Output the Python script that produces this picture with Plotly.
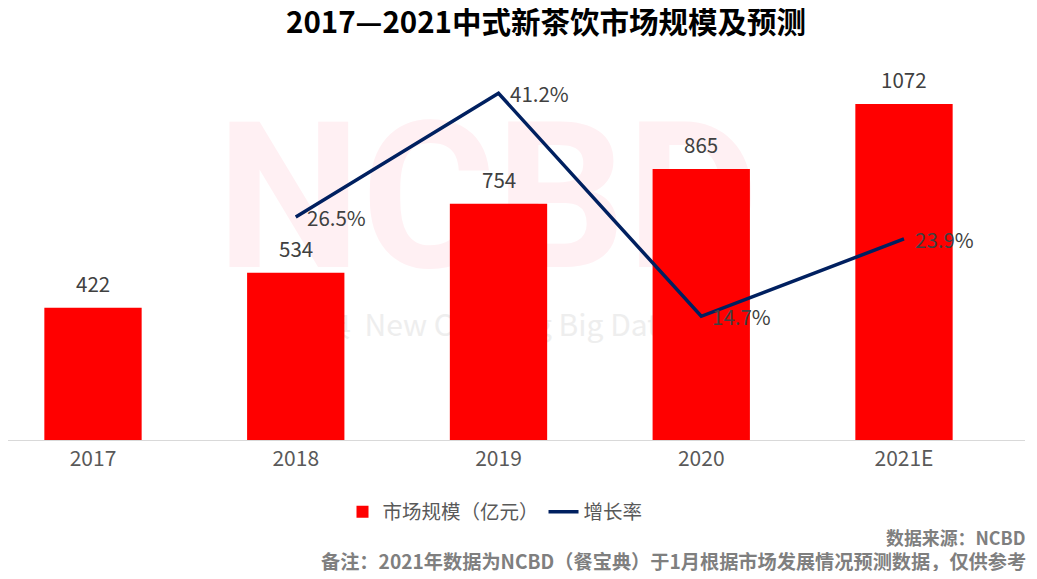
import plotly.graph_objects as go

years = ["2017", "2018", "2019", "2020", "2021E"]
market_size = [422, 534, 754, 865, 1072]
growth_years = ["2018", "2019", "2020", "2021E"]
growth_rate = [26.5, 41.2, 14.7, 23.9]

OFF = 8                      # page body margin in the browser
W, H = 1037 - 2 * OFF, 579 - 2 * OFF
L, T = 0, 52                 # plot area: ref x 8..1025, ref y 60..440
R = W - (1025 - OFF)
B = H - (440 - OFF)
PW = W - L - R
PH = H - T - B


def rx(px):
    """reference pixel x -> paper x"""
    return (px - OFF - L) / PW


def ry(py):
    """reference pixel y -> paper y"""
    return (440 - py) / PH


CJK = "Noto Sans CJK SC"
STEP = 202.75

fig = go.Figure()

fig.add_trace(go.Bar(
    x=years, y=market_size, name="市场规模（亿元）",
    marker=dict(color="#ff0000", line=dict(width=0)),
    width=0.48, yaxis="y",
))

fig.add_trace(go.Scatter(
    x=growth_years, y=growth_rate, name="增长率",
    mode="lines", yaxis="y2",
    line=dict(color="#002060", width=3.5),
))

annotations = []
for i, v in enumerate(market_size):
    annotations.append(dict(
        x=i, y=v, xref="x", yref="y", text=str(v), showarrow=False,
        yanchor="bottom", yshift=8,
        font=dict(family=CJK, size=20.5, color="#404040"),
    ))
for g, v in zip(growth_years, growth_rate):
    annotations.append(dict(
        x=years.index(g), y=v, xref="x", yref="y2", text=f"{v:.1f}%",
        showarrow=False, xanchor="left", yanchor="middle", xshift=9,
        font=dict(family=CJK, size=20.5, color="#404040"),
    ))

annotations.append(dict(
    xref="paper", yref="paper", x=rx(1028), y=ry(537),
    xanchor="right", yanchor="middle", showarrow=False,
    text="<b>数据来源：NCBD</b>",
    font=dict(family=CJK, size=17.9, color="#7f7f7f"),
))
annotations.append(dict(
    xref="paper", yref="paper", x=rx(1028), y=ry(561),
    xanchor="right", yanchor="middle", showarrow=False,
    text="<b>备注：2021年数据为NCBD（餐宝典）于1月根据市场发展情况预测数据，仅供参考</b>",
    font=dict(family=CJK, size=19.2, color="#7f7f7f"),
))

shapes = [
    dict(type="rect", xref="paper", yref="paper", layer="below",
         x0=rx(238), x1=rx(738), y0=ry(272), y1=ry(92),
         line=dict(width=0), fillcolor="rgba(0,0,0,0)",
         label=dict(text="<b>NCBD</b>", textposition="middle center",
                    font=dict(family="Roboto", size=205, color="#fff0f3"))),
    dict(type="rect", xref="paper", yref="paper", layer="below",
         x0=rx(258), x1=rx(760), y0=ry(350), y1=ry(306),
         line=dict(width=0), fillcolor="rgba(0,0,0,0)",
         label=dict(text="餐宝典  New Catering Big Data", textposition="middle left",
                    padding=0,
                    font=dict(family=CJK, size=30, color="#eeeeee"))),
]

x0 = (OFF + L - 93) / STEP
x1 = x0 + PW / STEP

fig.update_layout(
    width=W, height=H,
    margin=dict(l=L, r=R, t=T, b=B, autoexpand=False),
    paper_bgcolor="white", plot_bgcolor="white",
    title=dict(text="<b>2017—2021中式新茶饮市场规模及预测</b>",
               x=(546 - OFF) / W, xanchor="center",
               y=1 - (23 - OFF) / H, yanchor="middle",
               font=dict(family=CJK, size=29.5, color="#000000")),
    xaxis=dict(type="category", range=[x0, x1], showgrid=False,
               showline=True, linecolor="#d9d9d9", linewidth=1,
               ticks="", zeroline=False,
               tickfont=dict(family=CJK, size=21, color="#595959")),
    yaxis=dict(range=[0, PH / ((440 - 104) / 1072)], visible=False,
               showgrid=False, zeroline=False),
    yaxis2=dict(range=[0, PH / 8.415], overlaying="y", visible=False,
                showgrid=False, zeroline=False),
    legend=dict(orientation="h", x=rx(495), xanchor="center",
                y=ry(512), yanchor="middle",
                font=dict(family=CJK, size=19.5, color="#595959"),
                itemwidth=30, traceorder="normal"),
    showlegend=True,
    annotations=annotations,
    shapes=shapes,
)

fig.write_html("out.html")
